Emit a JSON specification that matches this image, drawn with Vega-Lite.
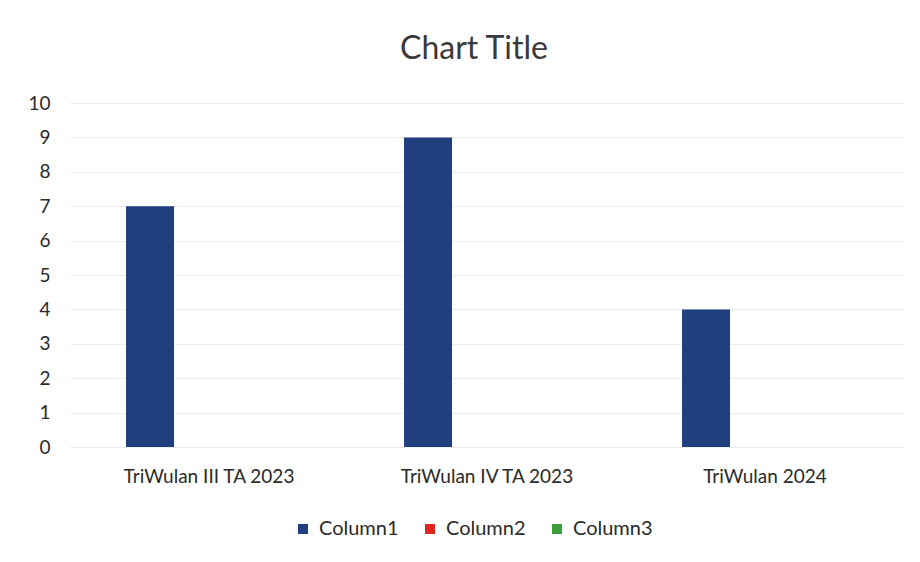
{
  "$schema": "https://vega.github.io/schema/vega-lite/v6.json",
  "width": 834,
  "height": 344,
  "autosize": "none",
  "padding": {"left": 70, "top": 103, "right": 16, "bottom": 115},
  "background": "#ffffff",
  "config": {"font": "Lato", "view": {"stroke": null}},
  "title": {"text": "Chart Title", "fontSize": 32, "font": "Lato", "fontWeight": "normal", "color": "#3a3a3a", "anchor": "middle", "offset": 28, "dx": -13},
  "data": {"values": [
    {"category": "TriWulan III TA 2023", "series": "Column1", "value": 7},
    {"category": "TriWulan IV TA 2023", "series": "Column1", "value": 9},
    {"category": "TriWulan 2024", "series": "Column1", "value": 4}
  ]},
  "mark": {"type": "bar"},
  "encoding": {
    "x": {"field": "category", "type": "nominal", "sort": null,
      "scale": {"paddingInner": 0.403, "paddingOuter": 0.2015},
      "axis": {"title": null, "labelAngle": 0, "labelFontSize": 19, "labelColor": "#2a2a2a", "ticks": false, "domain": false, "labelPadding": 20}},
    "xOffset": {"field": "series", "type": "nominal", "scale": {"domain": ["Column1", "Column2", "Column3"], "paddingInner": 0.186, "paddingOuter": 0}},
    "y": {"field": "value", "type": "quantitative",
      "scale": {"domain": [0, 10]},
      "axis": {"title": null, "values": [0,1,2,3,4,5,6,7,8,9,10], "labelFontSize": 19, "labelColor": "#2a2a2a", "ticks": false, "domain": false, "labelPadding": 20, "gridColor": "#ececec", "gridWidth": 1}},
    "color": {"field": "series", "type": "nominal",
      "scale": {"domain": ["Column1", "Column2", "Column3"], "range": ["#213f7e", "#e02424", "#3d9c3a"]},
      "legend": {"title": null, "orient": "none", "direction": "horizontal", "legendX": 223, "legendY": 416, "symbolType": "square", "symbolSize": 100, "labelFontSize": 20, "labelColor": "#2a2a2a", "columnPadding": 21, "symbolStrokeWidth": 0, "labelOffset": 6}}
  }
}
